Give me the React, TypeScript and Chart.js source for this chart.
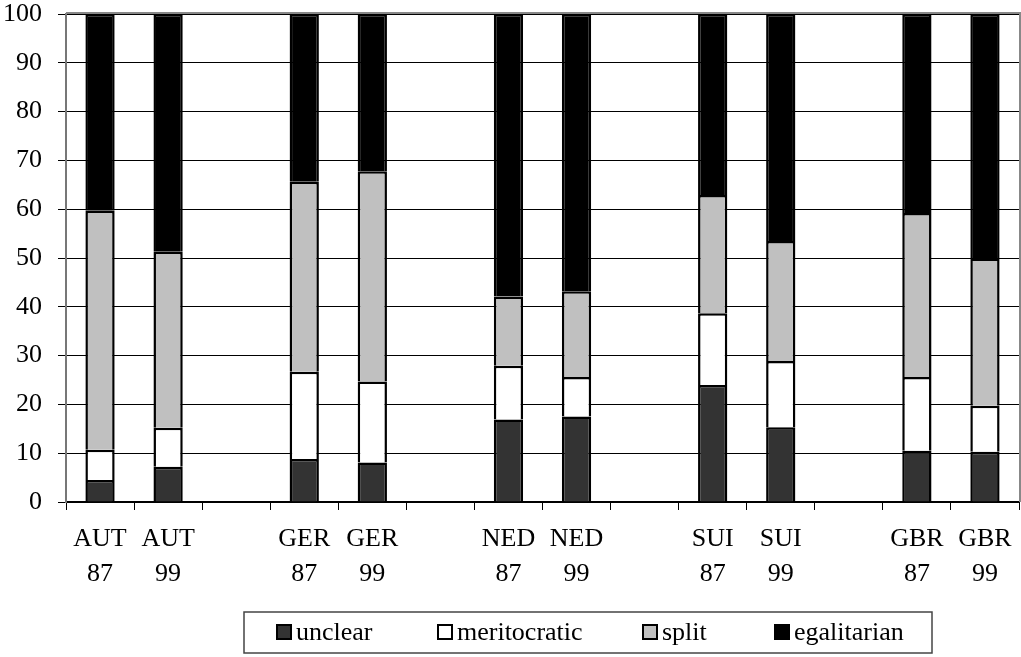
import React, { useEffect, useRef } from 'react';
import { Chart, registerables } from 'chart.js';

Chart.register(...registerables);

const categories: (string | string[])[] = [
  ['AUT', '87'], ['AUT', '99'], '',
  ['GER', '87'], ['GER', '99'], '',
  ['NED', '87'], ['NED', '99'], '',
  ['SUI', '87'], ['SUI', '99'], '',
  ['GBR', '87'], ['GBR', '99'],
];
const unclear = [4.5, 7.2, null, 8.8, 8.1, null, 16.9, 17.5, null, 24.0, 15.3, null, 10.5, 10.3];
const meritocratic = [6.2, 8.0, null, 17.9, 16.6, null, 11.0, 8.1, null, 14.7, 13.6, null, 15.1, 9.4];
const split = [49.0, 36.1, null, 38.9, 43.1, null, 14.2, 17.6, null, 24.2, 24.6, null, 33.6, 30.2];
const egalitarian = [40.3, 48.7, null, 34.4, 32.2, null, 57.9, 56.8, null, 37.1, 46.5, null, 40.8, 50.1];
const seriesNames = ['unclear', 'meritocratic', 'split', 'egalitarian'];
const seriesColors = ['#333333', '#ffffff', '#c0c0c0', '#000000'];
const yMin = 0;
const yMax = 100;
const yStep = 10;

const FONT = "'Liberation Serif', 'Times New Roman', serif";

const framePlugin = {
  id: 'frame',
  afterDraw(chart: any) {
    const { ctx, chartArea: a } = chart;
    ctx.save();
    ctx.strokeStyle = '#888888';
    ctx.lineWidth = 2;
    ctx.beginPath();
    ctx.moveTo(a.left, a.top - 1);
    ctx.lineTo(a.right + 1, a.top - 1);
    ctx.lineTo(a.right + 1, a.bottom);
    ctx.stroke();

    // legend box
    const bx = 244, by = 612, bw = 688, bh = 41;
    ctx.strokeStyle = '#444444';
    ctx.lineWidth = 1.5;
    ctx.strokeRect(bx, by, bw, bh);
    const xs = [276, 437, 642, 774];
    const cy = 632;
    ctx.font = `26px ${FONT}`;
    ctx.textBaseline = 'middle';
    ctx.textAlign = 'left';
    chart.data.datasets.forEach((ds: any, i: number) => {
      const x = xs[i];
      ctx.fillStyle = ds.backgroundColor;
      ctx.fillRect(x, cy - 8, 16, 16);
      ctx.strokeStyle = '#000';
      ctx.lineWidth = 2;
      ctx.strokeRect(x + 1, cy - 7, 14, 14);
      ctx.fillStyle = '#000';
      ctx.fillText(ds.label, x + 20, cy + 1);
    });
    ctx.restore();
  },
};

export default function App() {
  const ref = useRef<HTMLCanvasElement>(null);
  useEffect(() => {
    if (!ref.current) return;
    const series = [unclear, meritocratic, split, egalitarian];
    const chart = new Chart(ref.current, {
      type: 'bar',
      data: {
        labels: categories as any,
        datasets: series.map((d, i) => ({
          label: seriesNames[i],
          data: d as any,
          backgroundColor: seriesColors[i],
          borderColor: '#000000',
          borderWidth: 2.5,
          barPercentage: 0.43,
          categoryPercentage: 1,
        })),
      },
      options: {
        animation: false,
        responsive: false,
        devicePixelRatio: 1,
        layout: { padding: { top: 14, right: 2, left: 0, bottom: 0 } },
        plugins: {
          legend: { display: false },
          tooltip: { enabled: false },
        },
        scales: {
          x: {
            stacked: true,
            offset: true,
            grid: {
              offset: true,
              drawOnChartArea: false,
              drawTicks: true,
              tickLength: 8,
              color: '#000000',
              lineWidth: 1,
            },
            border: { display: true, color: '#000000', width: 2 },
            ticks: {
              color: '#000000',
              padding: 12,
              maxRotation: 0,
              autoSkip: false,
              font: { family: FONT, size: 26, lineHeight: 1.35 },
            },
            afterFit: (s: any) => {
              s.height = 155;
              s.paddingLeft = 0;
              s.paddingRight = 0;
            },
          },
          y: {
            stacked: true,
            min: yMin,
            max: yMax,
            ticks: {
              stepSize: yStep,
              color: '#000000',
              padding: 16,
              font: { family: FONT, size: 26, lineHeight: 1 },
            },
            grid: {
              color: '#000000',
              lineWidth: 1,
              tickLength: 8,
            },
            border: { display: true, color: '#777777', width: 2 },
            afterFit: (s: any) => {
              s.width = 66;
              s.paddingTop = 0;
              s.paddingBottom = 0;
            },
          },
        },
      },
      plugins: [framePlugin],
    });
    return () => chart.destroy();
  }, []);
  return (
    <div style={{ position: 'absolute', left: 0, top: 0, width: 1021, height: 657, background: '#fff' }}>
      <canvas ref={ref} width={1021} height={657} style={{ display: 'block' }} />
    </div>
  );
}
